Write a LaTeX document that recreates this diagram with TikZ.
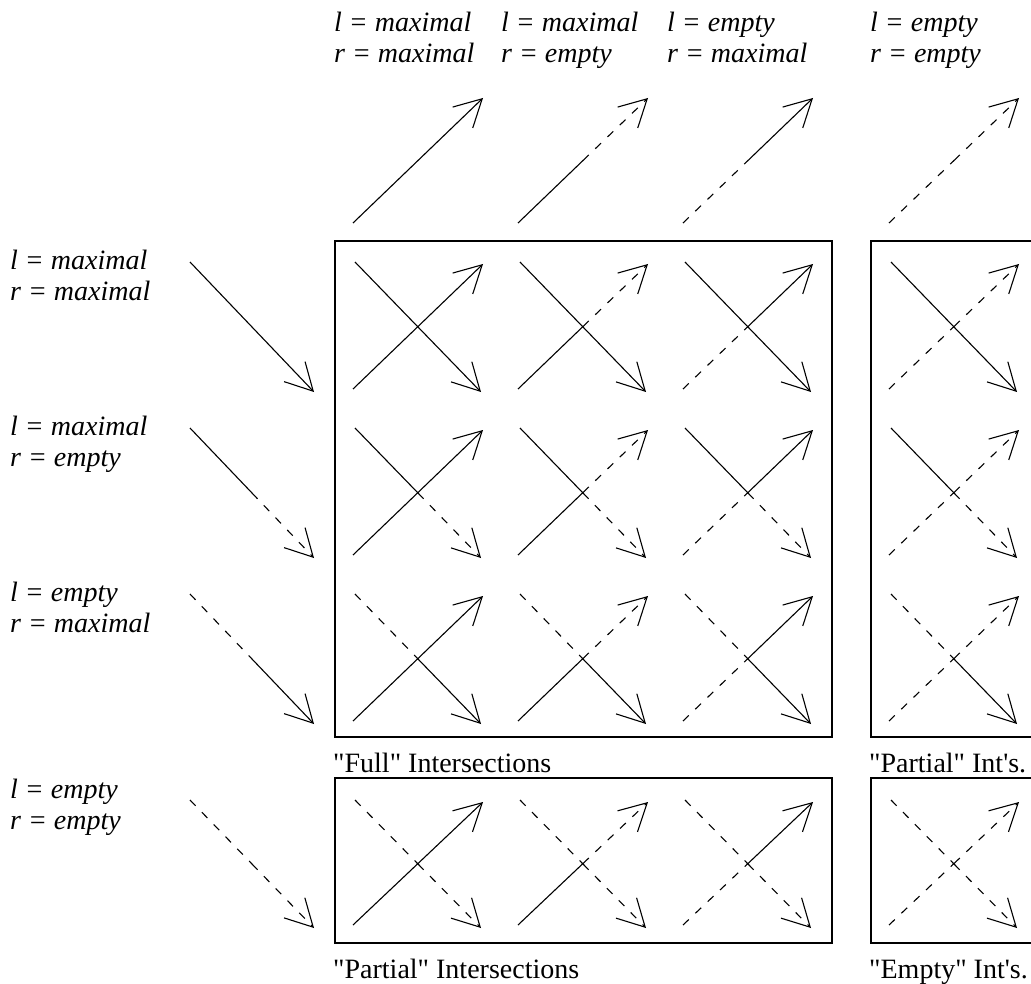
\documentclass[tikz,border=0pt]{standalone}
\usepackage{fontspec}
\setmainfont{Liberation Serif}
\newfontfamily\capfont{Liberation Serif}[Ligatures=TeXOff]
\usetikzlibrary{arrows.meta,calc}
\begin{document}
\begin{tikzpicture}[x=1pt,y=-1pt,
  ln/.style={line width=1.1pt},
  arr/.style={ln,-{Straight Barb[length=27pt,width=29pt]}},
  sol/.style={solid},
  dsh/.style={dash pattern=on 8pt off 9pt},
  box/.style={draw,line width=1.1pt},
  lab/.style={font=\fontsize{28}{31}\selectfont\itshape, align=left, inner sep=0pt, anchor=base west},
  captext/.style={font=\capfont\fontsize{28}{31}\selectfont, inner sep=0pt, anchor=base west}]
\useasboundingbox (0,0) rectangle (1031,984);
\clip (0,0) rectangle (1031,984);
% boxes
\draw[box] (335,241) rectangle (832,737);
\draw[box] (871,241) rectangle (1060,737);
\draw[box] (335,778) rectangle (832,943);
\draw[box] (871,778) rectangle (1060,943);
% captions
\node[captext] (capfull) at (333,772) {"Full" Intersections};
\node[captext] (cappartint) at (869,772) {"Partial" Int's.};
\node[captext] (cappartial) at (333,978) {"Partial" Intersections};
\node[captext] (capempty) at (869,978) {"Empty" Int's.};
% top labels (anchor = baseline of second line)
\node[lab] (t1) at (334,63) {l = maximal\\r = maximal};
\node[lab] (t2) at (501,63) {l = maximal\\r = empty};
\node[lab] (t3) at (667,63) {l = empty\\r = maximal};
\node[lab] (t4) at (870,63) {l = empty\\r = empty};
% left labels
\node[lab] (l1) at (10,301) {l = maximal\\r = maximal};
\node[lab] (l2) at (10,466) {l = maximal\\r = empty};
\node[lab] (l3) at (10,632) {l = empty\\r = maximal};
\node[lab] (l4) at (10,829) {l = empty\\r = empty};
% left arrows
\foreach \r/\yt/\yb/\ga/\gb in {1/262/392/sol/sol,2/428/558/sol/dsh,3/594/724/dsh/sol,4/800/928/dsh/dsh}{
  \coordinate (ls\r) at (190,\yt);
  \coordinate (le\r) at (314,\yb);
  \coordinate (lm\r) at ($(ls\r)!0.5!(le\r)$);
  \draw[ln,\ga] (ls\r) -- (lm\r);
  \draw[arr,\gb] (lm\r) -- (le\r);
}
% top arrows and grid
\foreach \c/\xo/\fa/\fb in {1/353/sol/sol,2/518/sol/dsh,3/683/dsh/sol,4/889/dsh/dsh}{
  \coordinate (ts\c) at (\xo,223);
  \coordinate (te\c) at (\xo+130,98);
  \coordinate (tm\c) at ($(ts\c)!0.5!(te\c)$);
  \draw[ln,\fa] (ts\c) -- (tm\c);
  \draw[arr,\fb] (tm\c) -- (te\c);
  \foreach \r/\yt/\yb/\ga/\gb in {1/262/392/sol/sol,2/428/558/sol/dsh,3/594/724/dsh/sol,4/800/928/dsh/dsh}{
    \coordinate (us\c\r) at (\xo,\yb-3);
    \coordinate (ue\c\r) at (\xo+130,\yt+2);
    \coordinate (um\c\r) at ($(us\c\r)!0.5!(ue\c\r)$);
    \draw[ln,\fa] (us\c\r) -- (um\c\r);
    \draw[arr,\fb] (um\c\r) -- (ue\c\r);
    \coordinate (ds\c\r) at (\xo+2,\yt);
    \coordinate (de\c\r) at (\xo+128,\yb);
    \coordinate (dm\c\r) at ($(ds\c\r)!0.5!(de\c\r)$);
    \draw[ln,\ga] (ds\c\r) -- (dm\c\r);
    \draw[arr,\gb] (dm\c\r) -- (de\c\r);
  }
}
\end{tikzpicture}
\end{document}
